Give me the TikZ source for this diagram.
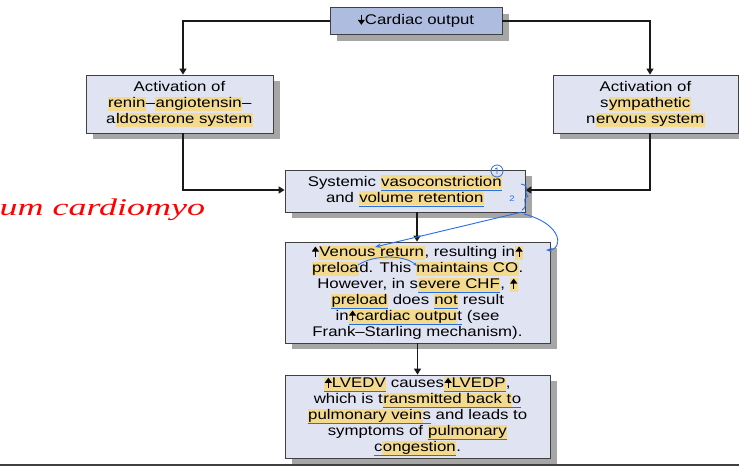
\documentclass[tikz,border=0pt]{standalone}
\usepackage{fontspec}
\setmainfont{Liberation Sans}[FakeStretch=1.2]
\newfontfamily\handf{Liberation Serif}[FakeStretch=1.5]
\usetikzlibrary{shadows,arrows.meta}
\definecolor{boxfill}{RGB}{224,228,242}
\definecolor{cofill}{RGB}{174,188,224}
\definecolor{hlc}{RGB}{244,218,140}
\definecolor{annblue}{RGB}{40,110,230}
\newsavebox{\bulbox}
\newcommand{\hl}[1]{{\setlength{\fboxsep}{0.5pt}\colorbox{hlc}{\vphantom{Ay}#1}}}
\newcommand{\bul}[1]{\leavevmode\sbox{\bulbox}{#1}\usebox{\bulbox}\llap{\textcolor{annblue}{\rule[-4.5pt]{\wd\bulbox}{0.8pt}}}}
\newcommand{\upa}{\tikz[baseline=0pt]\draw[line width=1pt,-{Triangle[width=7pt,length=5pt]}] (0pt,0pt)--(0pt,10pt);}
\newcommand{\dna}{\tikz[baseline=0pt]\draw[line width=1pt,-{Triangle[width=7pt,length=5pt]}] (0pt,10pt)--(0pt,0pt);}
\begin{document}
\begin{tikzpicture}[x=1pt,y=-1pt,
  boxstyle/.style={draw=black!75, line width=0.8pt, fill=boxfill, inner sep=0pt, align=center,
    font=\fontsize{14}{16}\selectfont,
    drop shadow={shadow xshift=7pt, shadow yshift=-6pt, fill=black!35, opacity=1}},
  conn/.style={line width=1.3pt, black!90, -{Triangle[width=7pt,length=6pt]}}]
\useasboundingbox (0,0) rectangle (739,472);
\fill[white] (0,0) rectangle (739,472);

\node[boxstyle, fill=cofill, minimum width=172pt, minimum height=27pt] (co) at (416,21) {\dna Cardiac output};
\node[boxstyle, minimum width=187pt, minimum height=58pt] (ras) at (179.5,104)
  {Activation of\\ \hl{renin}–\hl{angiotensin}–\\ a\hl{ldosterone system}};
\node[boxstyle, minimum width=185pt, minimum height=58pt] (sns) at (645.5,104)
  {Activation of\\ s\hl{ympathetic}\\ n\hl{ervous system}};
\node[boxstyle, minimum width=240pt, minimum height=42pt] (sys) at (405,191)
  {Systemic \bul{\hl{vasoconstriction}}\\ and \bul{\hl{volume retention}}};
\node[boxstyle, minimum width=265pt, minimum height=101pt] (ven) at (417.5,292.5)
  {\upa\hl{Venous return}, resulting in\hl{\upa}\\ \hl{preloa}d. This \hl{maintains CO}.\\ However, in s\bul{\hl{evere CHF}}, \hl{\upa}\\ \bul{\hl{preload}} does \bul{\hl{not}} result\\ in\bul{\hl{\upa cardiac outpu}t} (see\\ Frank–Starling mechanism).};
\node[boxstyle, minimum width=265pt, minimum height=83pt] (lv) at (417.5,416.5)
  {\bul{\hl{\upa LVEDV}} causes\bul{\hl{\upa LVEDP}},\\ which is t\bul{\hl{ransmitted back t}o}\\ \bul{\hl{pulmonary vein}s} and leads to\\ symptoms of \bul{\hl{pulmonary}}\\ \bul{c\hl{ongestion}}.};

\coordinate (cl) at (183,21);
\coordinate (cr) at (650,21);
\coordinate (bl) at (183,190);
\coordinate (br) at (650,190);
\draw[conn] (co.west) -- (cl) -- (cl|-ras.north);
\draw[conn] (co.east) -- (cr) -- (cr|-sns.north);
\draw[conn] (bl|-ras.south) -- (bl) -- (bl-|sys.west);
\draw[conn] (br|-sns.south) -- (br) -- (br-|sys.east);
\draw[conn] (417,212) -- (ven.north-|417,0);
\draw[conn] (ven.south) -- (lv.north);

% handwritten annotations
\node[red, font=\handf\itshape\fontsize{24}{24}\selectfont, anchor=west] (hw) at (-4,210) {um cardiomyo};
\draw[annblue, line width=0.8pt] (497,171) circle (6pt);
\draw[annblue, line width=0.7pt] (495,169) -- (497,168) -- (497,174);
\draw[annblue, line width=0.9pt] (521,184) .. controls (532,186) and (522,192) .. (528,196) .. controls (520,200) and (530,205) .. (522,210);
\node[annblue, font=\fontsize{8}{8}\selectfont] (two) at (512,199) {2};
\draw[annblue, line width=0.9pt, -{Stealth[length=6pt]}] (522,212) -- (375,247);
\draw[annblue, line width=0.9pt, -{Stealth[length=6pt]}] (524,214) .. controls (565,225) and (562,250) .. (546,250);
\draw[annblue, line width=0.8pt, -{Stealth[length=4pt]}] (358,265) .. controls (375,254) and (405,255) .. (417,266);

\draw[line width=2.5pt, black!75] (0,465) -- (739,465);
\end{tikzpicture}
\end{document}
